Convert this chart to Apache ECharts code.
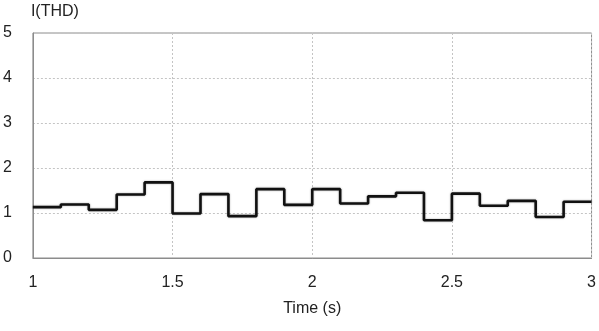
<!DOCTYPE html>
<html>
<head>
<meta charset="utf-8">
<script src="https://cdn.jsdelivr.net/npm/echarts@6/dist/echarts.min.js"></script>
<style>html,body{margin:0;padding:0;background:#fff}#c{width:599px;height:331px}</style>
</head>
<body>
<div id="c"></div>
<script>
const stepTimes = [1.0,1.1,1.2,1.3,1.4,1.5,1.6,1.7,1.8,1.9,2.0,2.1,2.2,2.3,2.4,2.5,2.6,2.7,2.8,2.9,3.0];
const thdValues = [1.13,1.19,1.07,1.41,1.68,0.99,1.42,0.93,1.53,1.18,1.53,1.21,1.37,1.45,0.84,1.43,1.16,1.27,0.91,1.25,1.25];
const xTicks = [1, 1.5, 2, 2.5, 3];
const yTicks = [0, 1, 2, 3, 4, 5];

const data = stepTimes.map((t, i) => [t, thdValues[i]]);
const font = 'Liberation Sans, Arial, sans-serif';
const chart = echarts.init(document.getElementById('c'), null, {renderer: 'canvas'});
chart.setOption({
  animation: false,
  grid: {left: 30, right: 5, top: 33, bottom: 73, show: true, borderColor: '#8c8c8c', borderWidth: 1, containLabel: false},
  xAxis: {
    type: 'value', min: xTicks[0], max: xTicks[xTicks.length - 1], interval: 0.5,
    name: 'Time (s)', nameLocation: 'middle', nameGap: 43,
    nameTextStyle: {fontFamily: font, fontSize: 16, color: '#222'},
    axisLine: {show: true, lineStyle: {color: '#8c8c8c', width: 1}},
    axisTick: {show: false},
    axisLabel: {fontFamily: font, fontSize: 16, color: '#222', margin: 17,
      formatter: v => xTicks.includes(v) ? String(v) : ''},
    splitLine: {show: true, lineStyle: {color: '#c4c4c4', type: [2, 2], width: 1}}
  },
  yAxis: {
    type: 'value', min: yTicks[0], max: yTicks[yTicks.length - 1], interval: 1,
    name: 'I(THD)', nameLocation: 'end', nameGap: 13,
    nameTextStyle: {fontFamily: font, fontSize: 16, color: '#222', align: 'left', padding: [0, 0, 0, -2]},
    axisLine: {show: true, lineStyle: {color: '#8c8c8c', width: 1}},
    axisTick: {show: false},
    axisLabel: {fontFamily: font, fontSize: 16, color: '#222', margin: 21, align: 'right'},
    splitLine: {show: true, lineStyle: {color: '#c4c4c4', type: [2, 2], width: 1}}
  },
  series: [{
    type: 'line', step: 'end', data: data, showSymbol: false,
    lineStyle: {color: '#111', width: 2.6, shadowColor: 'rgba(0,0,0,0.35)', shadowBlur: 2},
    z: 5
  }]
});
</script>
</body>
</html>
